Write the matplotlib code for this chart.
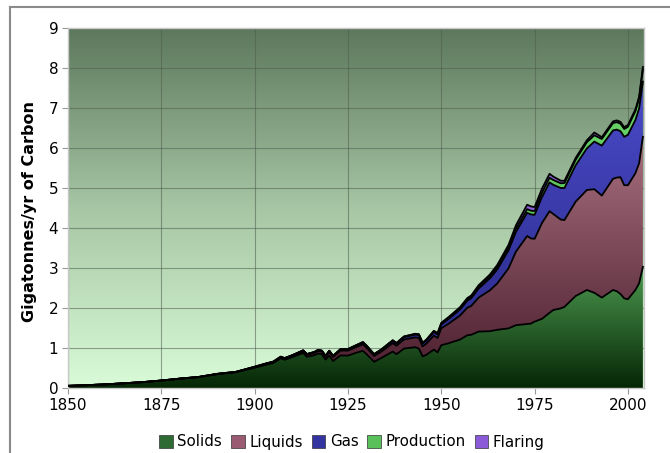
import numpy as np
import matplotlib
matplotlib.use("Agg")
import matplotlib.pyplot as plt
from matplotlib.colors import LinearSegmentedColormap
from matplotlib.patches import Patch
from matplotlib.lines import Line2D

# Global carbon emissions by fuel type, GtC/yr
years = [1850, 1855, 1860, 1865, 1870, 1875, 1880, 1885, 1890, 1895,
         1900, 1903, 1905, 1907, 1908, 1910, 1913, 1914, 1916, 1917,
         1918, 1919, 1920, 1921, 1923, 1925, 1927, 1929, 1930, 1932,
         1934, 1937, 1938, 1940, 1943, 1944, 1945, 1946, 1948, 1949,
         1950, 1952, 1955, 1957, 1958, 1960, 1963, 1965, 1968, 1970,
         1973, 1974, 1975, 1977, 1979, 1980, 1982, 1983, 1986, 1989,
         1991, 1993, 1996, 1997, 1998, 1999, 2000, 2002, 2003, 2004]

solids = [.054, .071, .091, .118, .146, .186, .232, .272, .345, .393,
          .505, .580, .625, .745, .705, .770, .875, .780, .820, .865,
          .845, .710, .810, .675, .815, .810, .875, .930, .845, .655,
          .755, .910, .845, .985, 1.02, .985, .790, .830, .960, .890,
          1.07, 1.12, 1.21, 1.32, 1.33, 1.41, 1.42, 1.455, 1.49, 1.57,
          1.60, 1.61, 1.66, 1.73, 1.88, 1.95, 1.99, 2.03, 2.30, 2.45,
          2.38, 2.26, 2.45, 2.42, 2.35, 2.24, 2.22, 2.45, 2.62, 3.03]

liquids = [0, 0, 0, 0, .001, .001, .003, .004, .006, .008,
           .016, .020, .022, .025, .027, .030, .045, .048, .058, .063,
           .065, .070, .095, .100, .120, .125, .140, .160, .158, .145,
           .160, .210, .210, .228, .245, .265, .250, .280, .350, .360,
           .423, .490, .600, .690, .720, .850, 1.02, 1.16, 1.50, 1.84,
           2.20, 2.13, 2.07, 2.40, 2.54, 2.40, 2.22, 2.17, 2.36, 2.50,
           2.59, 2.55, 2.78, 2.84, 2.92, 2.83, 2.85, 2.92, 3.00, 3.25]

gas = [0, 0, 0, 0, 0, 0, 0, 0, .003, .003,
       .010, .011, .012, .013, .014, .016, .020, .020, .022, .024,
       .023, .024, .027, .028, .035, .038, .045, .050, .047, .040,
       .045, .060, .058, .060, .070, .075, .075, .078, .090, .093,
       .097, .120, .150, .175, .190, .227, .300, .350, .450, .493,
       .580, .600, .600, .650, .720, .730, .790, .800, .910, 1.04,
       1.19, 1.25, 1.21, 1.20, 1.15, 1.21, 1.26, 1.33, 1.37, 1.38]

production = [0] * 27 + [
    .008, .008, .007, .009, .012, .012, .014, .015, .014, .011,
    .014, .018, .019, .018, .022, .030, .034, .036, .043, .050,
    .058, .068, .078, .092, .093, .094, .105, .115, .120, .118,
    .124, .135, .155, .158, .165, .182, .185, .188, .195, .200,
    .220, .245, .300]

flaring = [0] * 34 + [
    .006, .006, .006, .008, .012, .015, .023, .026, .030, .033,
    .035, .039, .045, .055, .068, .087, .110, .107, .100, .105,
    .100, .085, .065, .055, .048, .050, .070, .045, .044, .045,
    .045, .045, .045, .045, .050, .065]

labels = ["Solids", "Liquids", "Gas", "Production", "Flaring"]
series = [solids, liquids, gas, production, flaring]
# (bottom colour, top colour) for each layer's vertical gradient
grads = [("#052605", "#4d9a50"), ("#461a2a", "#a8707f"), ("#262682", "#4a4ac8"),
         ("#4cb04c", "#6cd86c"), ("#7a50c8", "#9a70e0")]
swatch = ["#2e6a34", "#9a5a72", "#3434a0", "#5ac05a", "#8a5ad8"]

XMAX = 2004.3

fig = plt.figure(figsize=(6.7, 4.53), dpi=100)
ax = fig.add_axes([68/670, 65/453, 576/670, 360/453])

# background gradient
bg = LinearSegmentedColormap.from_list("bg", ["#dafbd8", "#a6c6a4", "#5d785d"])
ax.imshow(np.linspace(0, 1, 256).reshape(-1, 1), cmap=bg, origin="lower",
          extent=[1850, XMAX, 0, 9], aspect="auto", zorder=0)

x = np.array(years, dtype=float)
base = np.zeros(len(x))
for vals, (c0, c1) in zip(series, grads):
    top = base + np.array(vals)
    poly = ax.fill_between(x, base, top, facecolor="none", edgecolor="none")
    cm = LinearSegmentedColormap.from_list("g", [c0, c1])
    im = ax.imshow(np.linspace(0, 1, 256).reshape(-1, 1), cmap=cm, origin="lower",
                   extent=[1850, XMAX, 0, max(top.max(), 0.1)], aspect="auto", zorder=2)
    im.set_clip_path(poly.get_paths()[0], transform=ax.transData)
    ax.plot(x, top, color="black", lw=1.3, zorder=3, solid_joinstyle="round")
    base = top

ax.set_xlim(1850, XMAX)
ax.set_ylim(0, 9)
ax.set_xticks([1850, 1875, 1900, 1925, 1950, 1975, 2000])
ax.set_yticks(range(10))
ax.set_axisbelow(True)
ax.grid(True, color="#4e5e4e", lw=0.8, alpha=0.55)
ax.tick_params(direction="out", length=4, color="#999999", labelsize=11, pad=3)
for s in ax.spines.values():
    s.set_color("#c8c8c8")
    s.set_linewidth(1)

ax.set_ylabel("Gigatonnes/yr of Carbon", fontsize=11.5, fontweight="bold")
ax.yaxis.set_label_coords(-0.054, 0.49)

handles = [Patch(facecolor=c, edgecolor="#333333", lw=0.5) for c in swatch]
fig.legend(handles, labels, loc="center", bbox_to_anchor=(352/670, 1 - 442/453),
           ncol=5, frameon=False, fontsize=10.8, handlelength=0.9, handleheight=0.9,
           handletextpad=0.3, columnspacing=0.6, borderaxespad=0)

# outer frame of the picture
fig.add_artist(Line2D([10/670, 10/670], [0, 1 - 7/453], transform=fig.transFigure,
                      color="#8a8a8a", lw=1.5))
fig.add_artist(Line2D([10/670, 1], [1 - 7/453, 1 - 7/453], transform=fig.transFigure,
                      color="#8a8a8a", lw=1.5))

fig.savefig("out.png", dpi=100)
